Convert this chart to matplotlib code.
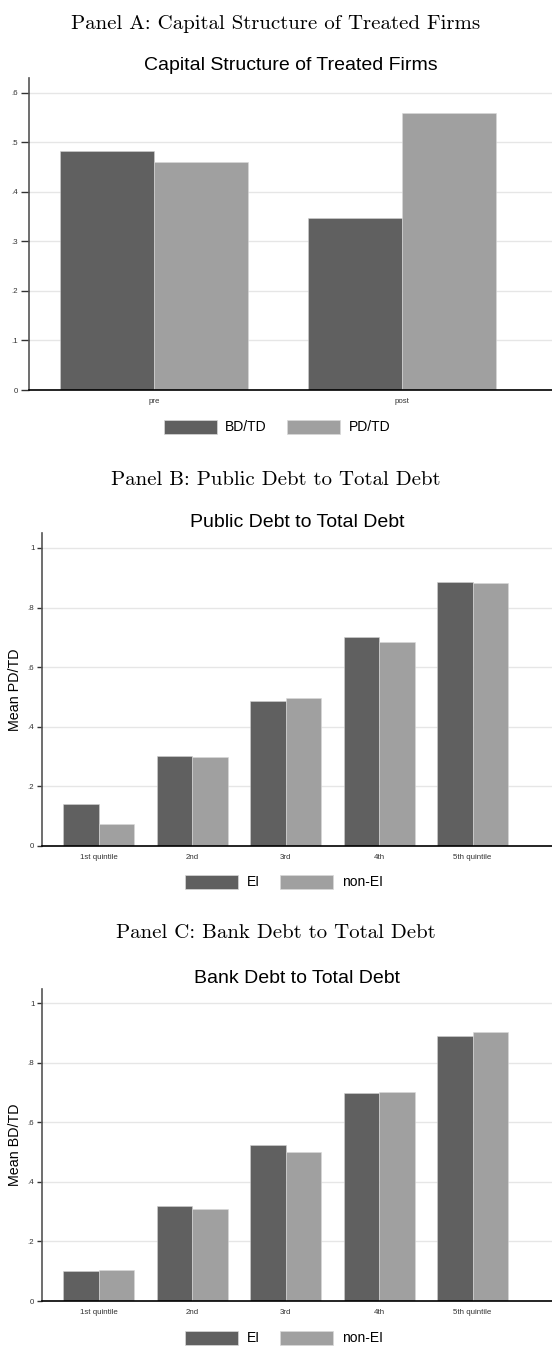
import numpy as np
import matplotlib
matplotlib.use("Agg")
import matplotlib.pyplot as plt
from matplotlib.patches import Patch
from matplotlib.ticker import FuncFormatter

# Panel A data
periods = ["pre", "post"]
bd_td = [0.483, 0.347]
pd_td = [0.460, 0.560]

# Panel B / C data
quintiles = ["1st quintile", "2nd", "3rd", "4th", "5th quintile"]
pd_ei = [0.141, 0.302, 0.488, 0.702, 0.884]
pd_nonei = [0.074, 0.299, 0.498, 0.685, 0.882]
bd_ei = [0.102, 0.320, 0.525, 0.697, 0.889]
bd_nonei = [0.105, 0.308, 0.500, 0.701, 0.904]

DARK = "#606060"
LIGHT = "#a0a0a0"
GRID = "#e6e6e6"
W, H = 552, 1346

plt.rcParams['font.family'] = ['Liberation Sans', 'DejaVu Sans']

fig = plt.figure(figsize=(W / 100, H / 100), dpi=100)


def box(l, t, r, b):
    return [l / W, 1 - b / H, (r - l) / W, (b - t) / H]


def fmt(v, pos):
    if abs(v) < 1e-9:
        return "0"
    if abs(v - 1) < 1e-9:
        return "1"
    return ("%.1f" % v).lstrip("0")


def style(ax, ticks, ticklen):
    ax.set_yticks(ticks)
    ax.yaxis.set_major_formatter(FuncFormatter(fmt))
    ax.grid(axis='y', color=GRID, linewidth=1)
    ax.set_axisbelow(True)
    for s in ['top', 'right']:
        ax.spines[s].set_visible(False)
    ax.spines['left'].set_color('#555555')
    ax.spines['left'].set_linewidth(1.2)
    ax.spines['bottom'].set_color('black')
    ax.spines['bottom'].set_linewidth(1.2)
    ax.tick_params(axis='y', labelsize=5.7, length=ticklen, width=1, pad=2, colors='#333333')
    ax.tick_params(axis='x', labelsize=5.7, length=0, pad=6, colors='#333333')


def legend(labels, cx, cy):
    handles = [Patch(facecolor=DARK, edgecolor='#d8d8d8', linewidth=0.5),
               Patch(facecolor=LIGHT, edgecolor='#d8d8d8', linewidth=0.5)]
    fig.legend(handles, labels, loc='center', bbox_to_anchor=(cx / W, 1 - cy / H),
               ncol=2, frameon=False, fontsize=10, handlelength=3.8, handleheight=1.2,
               handletextpad=0.6, columnspacing=1.5)


serif = dict(family='cmr10', fontsize=15, ha='center', va='center')

# ---------- Panel A ----------
fig.text(0.5, 1 - 24 / H, "Panel A: Capital Structure of Treated Firms", **serif)
axA = fig.add_axes(box(29, 78, 552, 390))
x = np.arange(len(periods))
w = 0.379
axA.bar(x - w / 2, bd_td, w, color=DARK, edgecolor='#d0d0d0', linewidth=0.4)
axA.bar(x + w / 2, pd_td, w, color=LIGHT, edgecolor='#d8d8d8', linewidth=0.4)
axA.set_xlim(-0.504, 1.605)
axA.set_ylim(0, 0.63)
axA.set_xticks(x)
axA.set_xticklabels(periods)
style(axA, [0, 0.1, 0.2, 0.3, 0.4, 0.5, 0.6], 6)
axA.set_title("Capital Structure of Treated Firms", fontsize=14, pad=6)
legend(["BD/TD", "PD/TD"], 277, 427)

# ---------- Panel B ----------
fig.text(0.5, 1 - 480 / H, "Panel B: Public Debt to Total Debt", **serif)
axB = fig.add_axes(box(42, 533, 552, 846))
xq = np.arange(len(quintiles))
wq = 0.38
axB.bar(xq - wq / 2, pd_ei, wq, color=DARK, edgecolor='#d0d0d0', linewidth=0.4)
axB.bar(xq + wq / 2, pd_nonei, wq, color=LIGHT, edgecolor='#d8d8d8', linewidth=0.4)
axB.set_xlim(-0.61, 4.85)
axB.set_ylim(0, 1.05)
axB.set_xticks(xq)
axB.set_xticklabels(quintiles)
style(axB, [0, 0.2, 0.4, 0.6, 0.8, 1.0], 3.5)
axB.set_ylabel("Mean PD/TD", fontsize=10.3, labelpad=4)
axB.set_title("Public Debt to Total Debt", fontsize=14, pad=4.5)
legend(["EI", "non-EI"], 284, 882)

# ---------- Panel C ----------
fig.text(0.5, 1 - 933 / H, "Panel C: Bank Debt to Total Debt", **serif)
axC = fig.add_axes(box(42, 989, 552, 1301))
axC.bar(xq - wq / 2, bd_ei, wq, color=DARK, edgecolor='#d0d0d0', linewidth=0.4)
axC.bar(xq + wq / 2, bd_nonei, wq, color=LIGHT, edgecolor='#d8d8d8', linewidth=0.4)
axC.set_xlim(-0.61, 4.85)
axC.set_ylim(0, 1.048)
axC.set_xticks(xq)
axC.set_xticklabels(quintiles)
style(axC, [0, 0.2, 0.4, 0.6, 0.8, 1.0], 3.5)
axC.set_ylabel("Mean BD/TD", fontsize=10.3, labelpad=4)
axC.set_title("Bank Debt to Total Debt", fontsize=14, pad=4.5)
legend(["EI", "non-EI"], 284, 1338)

fig.savefig("out.png", dpi=100, facecolor='white')
